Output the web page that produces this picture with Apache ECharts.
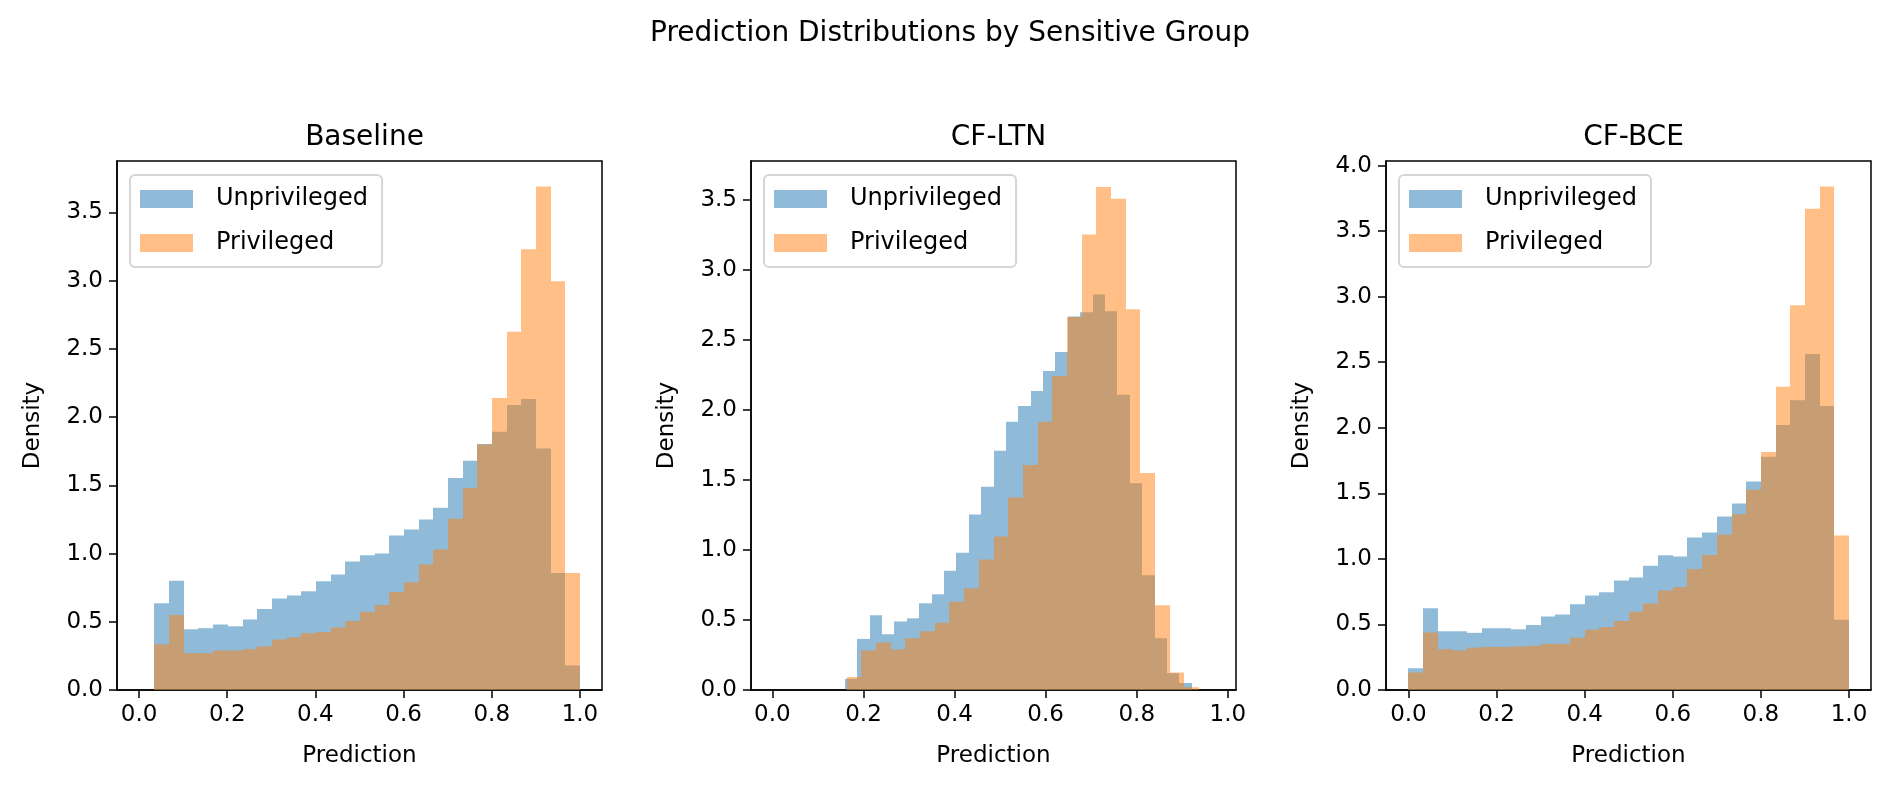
<!DOCTYPE html>
<html><head><meta charset="utf-8">
<script src="https://cdn.jsdelivr.net/npm/echarts@6/dist/echarts.min.js"></script>
<style>html,body{margin:0;padding:0;background:#fff}#c{width:1890px;height:792px}</style>
</head><body><div id="c"></div>
<script>
// Histogram bin ranges [start, end, binCount]
const baselineBins = [0.035, 1.0, 29];
const ltnUnprivBins = [0.159, 0.921, 28];
const ltnPrivBins = [0.163, 0.937, 24];
const bceBins = [0.0, 1.0, 30];

// Densities
const baselineUnpriv = [0.635,0.80,0.445,0.453,0.48,0.467,0.517,0.593,0.67,0.693,0.724,0.797,0.847,0.942,0.987,1.0,1.132,1.177,1.25,1.336,1.554,1.68,1.803,1.893,2.088,2.133,1.77,0.858,0.18];
const baselinePriv = [0.335,0.55,0.27,0.27,0.29,0.29,0.30,0.32,0.37,0.386,0.417,0.425,0.458,0.506,0.573,0.623,0.718,0.79,0.92,1.03,1.255,1.48,1.80,2.14,2.625,3.23,3.69,2.995,0.858];
const ltnUnpriv = [0.08,0.365,0.534,0.398,0.49,0.512,0.619,0.684,0.853,0.98,1.254,1.453,1.709,1.916,2.03,2.137,2.279,2.415,2.668,2.70,2.826,2.706,2.11,1.477,0.82,0.37,0.12,0.05];
const ltnPriv = [0.093,0.283,0.34,0.29,0.37,0.42,0.48,0.63,0.727,0.932,1.096,1.376,1.608,1.916,2.243,2.666,3.254,3.595,3.51,2.72,1.551,0.605,0.125,0.02];
const bceUnpriv = [0.166,0.623,0.448,0.448,0.436,0.471,0.471,0.463,0.495,0.561,0.576,0.655,0.721,0.745,0.835,0.858,0.948,1.027,1.018,1.164,1.201,1.324,1.423,1.591,1.78,2.022,2.211,2.563,2.167,0.535];
const bcePriv = [0.134,0.439,0.311,0.303,0.323,0.329,0.329,0.332,0.337,0.352,0.352,0.399,0.46,0.48,0.527,0.596,0.66,0.759,0.785,0.922,1.03,1.184,1.341,1.527,1.815,2.313,2.935,3.671,3.84,1.178];

const panelTitles = ['Baseline','CF-LTN','CF-BCE'];
const xTicks = [0,0.2,0.4,0.6,0.8,1.0];
const yTicks = [[0,0.5,1,1.5,2,2.5,3,3.5],[0,0.5,1,1.5,2,2.5,3,3.5],[0,0.5,1,1.5,2,2.5,3,3.5,4]];
const xRanges = [[-0.05,1.05],[-0.047,1.018],[-0.051,1.05]];
const yMax = [3.877,3.78,4.035];

function hist(bins, vals){
  const [s,e,n]=bins, w=(e-s)/n;
  return vals.map((v,i)=>[s+i*w, s+(i+1)*w, v]);
}
const panels = [
  [hist(baselineBins,baselineUnpriv), hist(baselineBins,baselinePriv)],
  [hist(ltnUnprivBins,ltnUnpriv), hist(ltnPrivBins,ltnPriv)],
  [hist(bceBins,bceUnpriv), hist(bceBins,bcePriv)]
];
const FONT='DejaVu Sans';
const lefts=[117,751,1386], W=485, TOP=161, H=529;
const cols=['rgba(31,119,180,0.5)','rgba(255,127,14,0.5)'];
const names=['Unprivileged','Privileged'];

function renderItem(params, api){
  const p0=api.coord([api.value(0), api.value(2)]);
  const p1=api.coord([api.value(1), 0]);
  return {type:'rect', shape:{x:Math.round(p0[0]), y:p0[1], width:Math.round(p1[0])-Math.round(p0[0]), height:p1[1]-p0[1]},
    style:{fill:api.visual('color')}};
}

const opt={animation:false, textStyle:{fontFamily:FONT},
  title:[{text:'Prediction Distributions by Sensitive Group', left:945, top:15, textAlign:'center',
    textStyle:{fontFamily:FONT,fontSize:28,fontWeight:'normal',color:'#000'}}],
  grid:[], xAxis:[], yAxis:[], series:[], legend:[]};

panels.forEach((pd,k)=>{
  opt.title.push({text:panelTitles[k], left:lefts[k]+W/2, top:119, textAlign:'center',
    textStyle:{fontFamily:FONT,fontSize:28,fontWeight:'normal',color:'#000'}});
  opt.grid.push({left:lefts[k], top:TOP, width:W, height:H, show:true, borderColor:'#000', borderWidth:1.5, backgroundColor:'transparent'});
  opt.xAxis.push({type:'value', gridIndex:k, min:xRanges[k][0], max:xRanges[k][1],
    name:'Prediction', nameLocation:'middle', nameGap:55,
    nameTextStyle:{fontFamily:FONT,fontSize:23,color:'#000'},
    axisLine:{show:true,onZero:false,lineStyle:{color:'#000',width:1.5}},
    axisTick:{show:true,length:8,customValues:xTicks,lineStyle:{color:'#000',width:1.5}},
    axisLabel:{customValues:xTicks,margin:14,fontFamily:FONT,fontSize:23,color:'#000',formatter:v=>v.toFixed(1)},
    splitLine:{show:false}});
  opt.yAxis.push({type:'value', gridIndex:k, min:0, max:yMax[k],
    name:'Density', nameLocation:'middle', nameGap:72, nameRotate:90,
    nameTextStyle:{fontFamily:FONT,fontSize:23,color:'#000'},
    axisLine:{show:true,onZero:false,lineStyle:{color:'#000',width:1.5}},
    axisTick:{show:true,length:8,customValues:yTicks[k],lineStyle:{color:'#000',width:1.5}},
    axisLabel:{customValues:yTicks[k],margin:14,fontFamily:FONT,fontSize:23,color:'#000',formatter:v=>v.toFixed(1)},
    splitLine:{show:false}});
  pd.forEach((d,j)=>{
    opt.series.push({type:'custom', name:names[j], xAxisIndex:k, yAxisIndex:k, renderItem,
      itemStyle:{color:cols[j]}, encode:{x:[0,1], y:2}, data:d});
  });
  opt.legend.push({orient:'vertical', left:lefts[k]+13, top:175, data:names,
    itemWidth:53, itemHeight:18, itemGap:20, icon:'rect',
    padding:[12,14,12,10], backgroundColor:'#fff', borderColor:'#d5d5d5', borderWidth:2, borderRadius:5,
    selectedMode:false,
    textStyle:{fontFamily:FONT,fontSize:24,color:'#000',padding:[0,0,0,18]}});
});
const ch=echarts.init(document.getElementById('c'),null,{renderer:'canvas'});
ch.setOption(opt);
</script></body></html>
